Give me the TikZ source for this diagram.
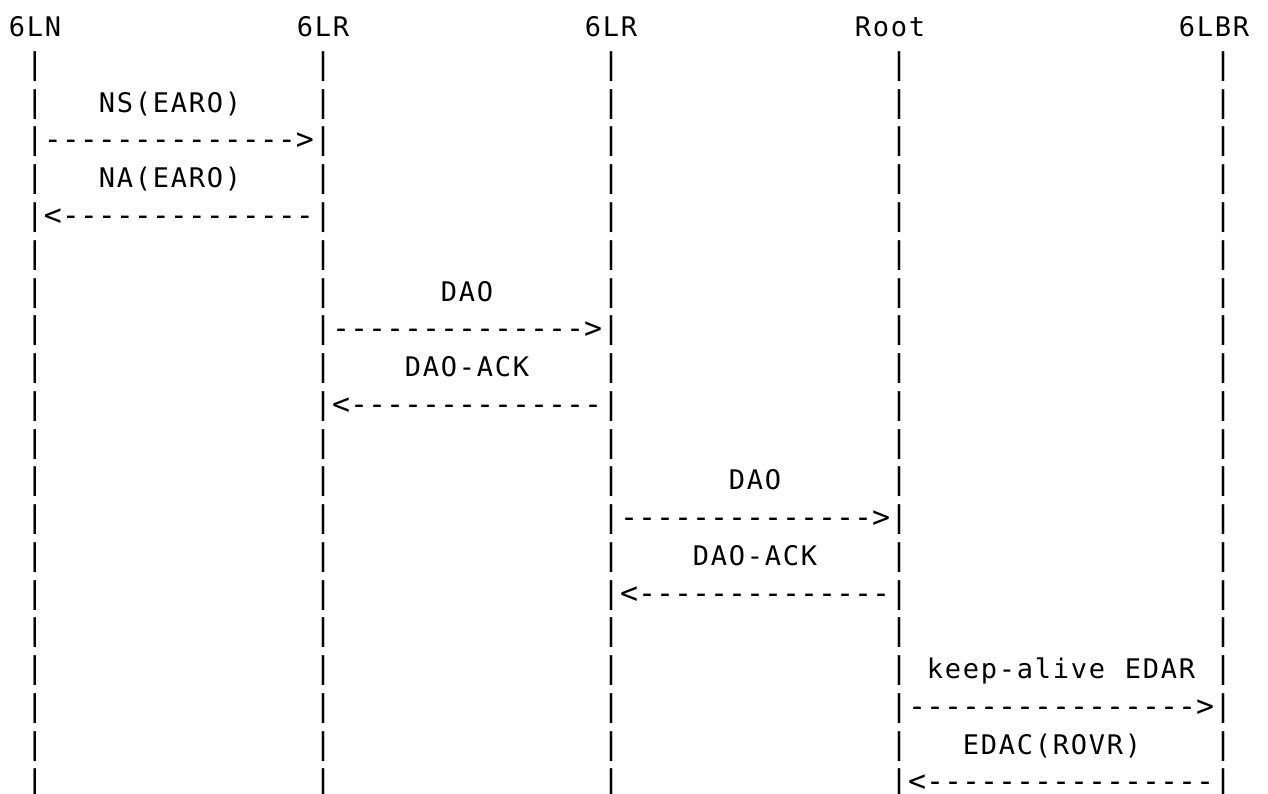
\documentclass[tikz,border=0pt]{standalone}
\usepackage{fontspec}
\setmonofont{DejaVu Sans Mono}
\tikzset{
  tok/.style={anchor=base west,inner sep=0pt,outer sep=0pt},
  lbl/.style={tok,font=\ttfamily\fontsize{27pt}{30pt}\selectfont},
  arr/.style={tok,font=\ttfamily\fontsize{29.9pt}{30pt}\selectfont},
  lifebar/.style={tok,font=\ttfamily\fontsize{29.9pt}{30pt}\selectfont}
}
% each character in its own 18pt cell (monospace grid)
\def\spread#1{\spreadi#1\relax}
\def\spreadi#1{\ifx\relax#1\else\makebox[18pt][c]{#1}\expandafter\spreadi\fi}
% \tokat[style]{name}{column}{row}{text}
\newcommand\tokat[5][lbl]{\node[#1] (#2) at ({8+18*(#3)},{-(36.7+37.76*(#4))}) {\spread{#5}};}
\begin{document}
\begin{tikzpicture}[x=1pt,y=1pt]
\fill[white] (0,0) rectangle (1268,-793);
\useasboundingbox (0,0) rectangle (1268,-793);
% participants
\tokat{p6LN}{0}{0}{6LN}
\tokat{p6LRa}{16}{0}{6LR}
\tokat{p6LRb}{32}{0}{6LR}
\tokat{pRoot}{47}{0}{Root}
\tokat{p6LBR}{65}{0}{6LBR}
% lifelines
\foreach \r in {1,...,20}{
  \foreach \c/\n in {1/a,17/b,33/c,49/d,67/e}{
    \tokat[lifebar]{bar\n\r}{\c}{\r}{|}
  }
}
% 6LN <-> 6LR
\tokat{lNS}{5}{2}{NS(EARO)}
\tokat[arr]{aNS}{2}{3}{-------------->}
\tokat{lNA}{5}{4}{NA(EARO)}
\tokat[arr]{aNA}{2}{5}{<--------------}
% 6LR <-> 6LR
\tokat{lDAOa}{24}{7}{DAO}
\tokat[arr]{aDAOa}{18}{8}{-------------->}
\tokat{lACKa}{22}{9}{DAO-ACK}
\tokat[arr]{aACKa}{18}{10}{<--------------}
% 6LR <-> Root
\tokat{lDAOb}{40}{12}{DAO}
\tokat[arr]{aDAOb}{34}{13}{-------------->}
\tokat{lACKb}{38}{14}{DAO-ACK}
\tokat[arr]{aACKb}{34}{15}{<--------------}
% Root <-> 6LBR
\tokat{lEDARa}{51}{17}{keep-alive}
\tokat{lEDARb}{62}{17}{EDAR}
\tokat[arr]{aEDAR}{50}{18}{---------------->}
\tokat{lEDAC}{53}{19}{EDAC(ROVR)}
\tokat[arr]{aEDAC}{50}{20}{<----------------}
\end{tikzpicture}
\end{document}
